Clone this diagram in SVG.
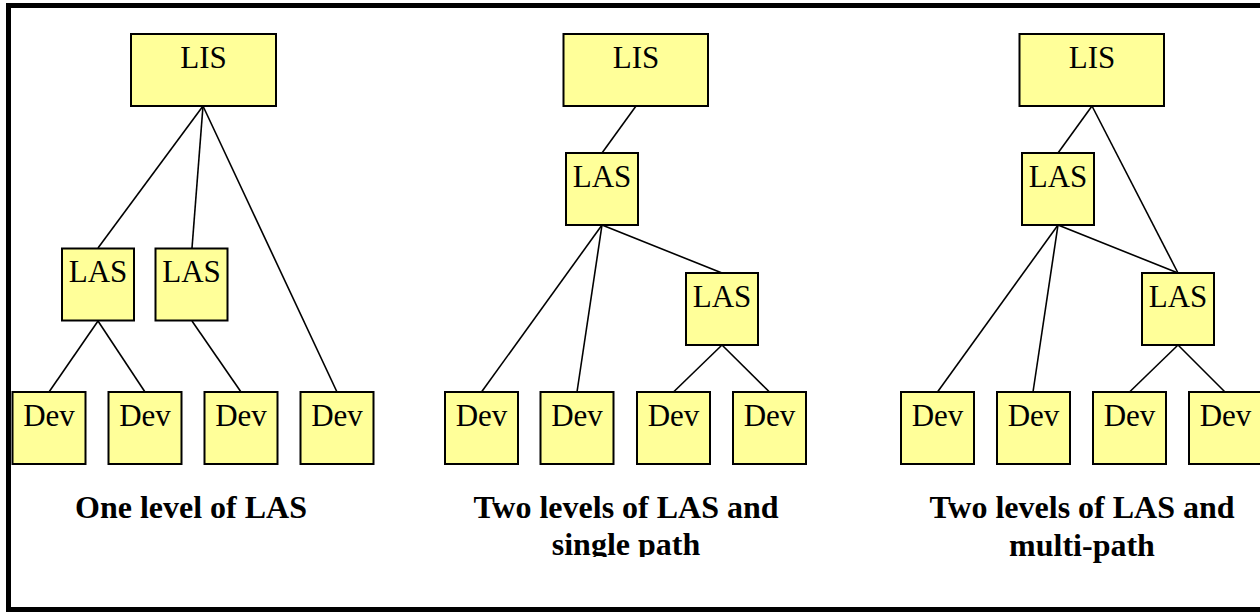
<svg xmlns="http://www.w3.org/2000/svg" width="1260" height="612" viewBox="0 0 1260 612">
<style>
.n rect{fill:#FFFF99;stroke:#000;stroke-width:2}
.n text{font-family:"Liberation Serif",serif;font-size:31px;text-anchor:middle;fill:#000}
.cap{font-family:"Liberation Serif",serif;font-size:32px;font-weight:bold;text-anchor:middle;fill:#000}
#connectors line{stroke:#000;stroke-width:1.6}
</style>
<defs>
<clipPath id="midclip"><rect x="400" y="480" width="460" height="77"/></clipPath>
</defs>
<rect x="0" y="0" width="1260" height="612" fill="#fff"/>
<rect x="8.5" y="5.5" width="1270" height="604" fill="none" stroke="#000" stroke-width="5"/>
<g id="connectors">
<line x1="203" y1="106" x2="98" y2="248"/>
<line x1="203" y1="106" x2="192" y2="248"/>
<line x1="203" y1="106" x2="337" y2="392"/>
<line x1="98" y1="321" x2="49" y2="392"/>
<line x1="98" y1="321" x2="145" y2="392"/>
<line x1="192" y1="321" x2="241" y2="392"/>
<line x1="636" y1="106" x2="602" y2="153"/>
<line x1="602" y1="225" x2="722" y2="273"/>
<line x1="602" y1="225" x2="481.5" y2="392"/>
<line x1="602" y1="225" x2="577" y2="392"/>
<line x1="722" y1="345" x2="673.5" y2="392"/>
<line x1="722" y1="345" x2="769.5" y2="392"/>
<line x1="1092" y1="106" x2="1058" y2="153"/>
<line x1="1092" y1="106" x2="1178" y2="273"/>
<line x1="1058" y1="225" x2="1178" y2="273"/>
<line x1="1058" y1="225" x2="937.5" y2="392"/>
<line x1="1058" y1="225" x2="1033" y2="392"/>
<line x1="1178" y1="345" x2="1129.5" y2="392"/>
<line x1="1178" y1="345" x2="1225" y2="392"/>
</g>
<g id="a-lis" class="n"><rect x="131" y="34" width="145" height="72"/><text x="203.5" y="68">LIS</text></g>
<g id="a-las1" class="n"><rect x="62" y="248.5" width="72" height="72"/><text x="98" y="282">LAS</text></g>
<g id="a-las2" class="n"><rect x="155.5" y="248.5" width="72" height="72"/><text x="191.5" y="282">LAS</text></g>
<g id="a-dev1" class="n"><rect x="12.5" y="392" width="73" height="72"/><text x="49" y="425.5">Dev</text></g>
<g id="a-dev2" class="n"><rect x="108.5" y="392" width="73" height="72"/><text x="145" y="425.5">Dev</text></g>
<g id="a-dev3" class="n"><rect x="204.5" y="392" width="73" height="72"/><text x="241" y="425.5">Dev</text></g>
<g id="a-dev4" class="n"><rect x="300.5" y="392" width="73" height="72"/><text x="337" y="425.5">Dev</text></g>
<g id="b-lis" class="n"><rect x="563.5" y="34" width="144.5" height="72"/><text x="636" y="68">LIS</text></g>
<g id="b-las1" class="n"><rect x="566" y="153" width="72" height="72"/><text x="602" y="187">LAS</text></g>
<g id="b-las2" class="n"><rect x="686" y="273" width="72" height="72"/><text x="722" y="307">LAS</text></g>
<g id="b-dev1" class="n"><rect x="445" y="392" width="73" height="72"/><text x="481.5" y="425.5">Dev</text></g>
<g id="b-dev2" class="n"><rect x="540.5" y="392" width="73" height="72"/><text x="577" y="425.5">Dev</text></g>
<g id="b-dev3" class="n"><rect x="637" y="392" width="73" height="72"/><text x="673.5" y="425.5">Dev</text></g>
<g id="b-dev4" class="n"><rect x="733" y="392" width="73" height="72"/><text x="769.5" y="425.5">Dev</text></g>
<g id="c-lis" class="n"><rect x="1019.5" y="34" width="144.5" height="72"/><text x="1092" y="68">LIS</text></g>
<g id="c-las1" class="n"><rect x="1022" y="153" width="72" height="72"/><text x="1058" y="187">LAS</text></g>
<g id="c-las2" class="n"><rect x="1142" y="273" width="72" height="72"/><text x="1178" y="307">LAS</text></g>
<g id="c-dev1" class="n"><rect x="901" y="392" width="73" height="72"/><text x="937.5" y="425.5">Dev</text></g>
<g id="c-dev2" class="n"><rect x="997" y="392" width="73" height="72"/><text x="1033.5" y="425.5">Dev</text></g>
<g id="c-dev3" class="n"><rect x="1093" y="392" width="73" height="72"/><text x="1129.5" y="425.5">Dev</text></g>
<g id="c-dev4" class="n"><rect x="1189" y="392" width="73" height="72"/><text x="1225.5" y="425.5">Dev</text></g>
<g id="captions">
<text class="cap" x="191" y="518">One level of LAS</text>
<g clip-path="url(#midclip)">
<text class="cap" x="626" y="518">Two levels of LAS and</text>
<text class="cap" x="626" y="555">single path</text>
</g>
<text class="cap" x="1082" y="518">Two levels of LAS and</text>
<text class="cap" x="1082" y="556">multi-path</text>
</g>
</svg>
